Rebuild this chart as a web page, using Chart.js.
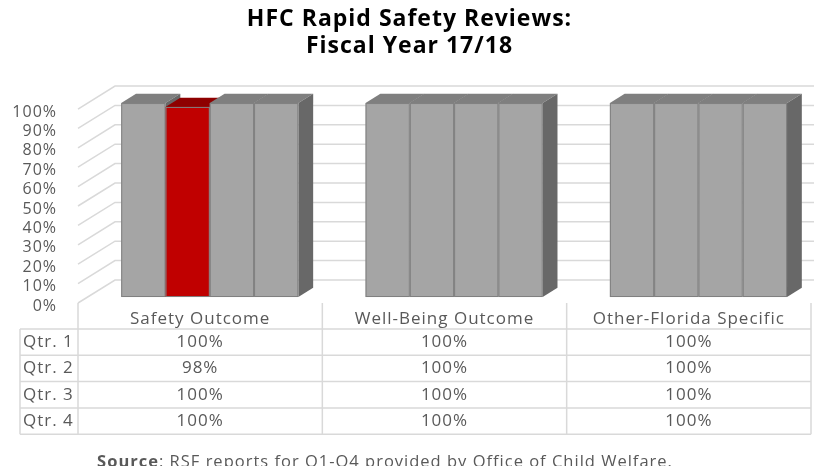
<!DOCTYPE html>
<html>
<head>
<meta charset="utf-8">
<script src="https://cdn.jsdelivr.net/npm/chart.js@4.4.1/dist/chart.umd.min.js"></script>
<style>
  html, body { margin: 0; padding: 0; background: #fff; }
  #wrap { width: 814px; height: 466px; }
</style>
</head>
<body>
<div id="wrap"><canvas id="rsrChart" width="814" height="466"></canvas></div>
<script>
// Chart data
const categories = ['Safety Outcome', 'Well-Being Outcome', 'Other-Florida Specific'];
const quarters = ['Qtr. 1', 'Qtr. 2', 'Qtr. 3', 'Qtr. 4'];
const qtr1 = [100, 100, 100];
const qtr2 = [98, 100, 100];
const qtr3 = [100, 100, 100];
const qtr4 = [100, 100, 100];
const yTicks = [0, 10, 20, 30, 40, 50, 60, 70, 80, 90, 100];

const GRAY = '#a5a5a5';
const RED = '#c00000';
const TEXT = '#595959';
const LINE = '#d9d9d9';
const FONT = "'Open Sans', sans-serif";

// shading for top / side faces of the 3D bars
const shade = {
    '#a5a5a5': { top: '#7f7f7f', side: '#686868' },
    '#c00000': { top: '#8e0000', side: '#700000' }
};

// 3D depth of the plot box, bars sit in the middle of it
const depth = { dx: 37, dy: -23 };
const barFront = 0.26, barBack = 0.66;

const series = [qtr1, qtr2, qtr3, qtr4];

const threeD = {
    id: 'threeD',
    beforeDraw(chart) {
        // the reference text is set wide, spread letters a little
        chart.ctx.letterSpacing = '1px';
    },
    beforeDatasetsDraw(chart) {
        const { ctx, chartArea: a, scales: { x, y } } = chart;
        ctx.save();

        // walls: left side diagonals + back wall grid
        ctx.strokeStyle = LINE;
        ctx.lineWidth = 1.5;
        yTicks.forEach(v => {
            const py = y.getPixelForValue(v);
            ctx.beginPath();
            ctx.moveTo(a.left, py);
            ctx.lineTo(a.left + depth.dx, py + depth.dy);
            ctx.lineTo(a.right + depth.dx, py + depth.dy);
            ctx.stroke();
        });

        const fx = depth.dx * barFront, fy = depth.dy * barFront;
        const bx = depth.dx * (barBack - barFront), by = depth.dy * (barBack - barFront);

        categories.forEach((c, i) => {
            chart.data.datasets.forEach((ds, di) => {
                const bar = chart.getDatasetMeta(di).data[i];
                const col = Array.isArray(ds.backgroundColor) ? ds.backgroundColor[i] : ds.backgroundColor;
                const l = bar.x - bar.width / 2 + fx, r = bar.x + bar.width / 2 + fx;
                const top = bar.y + fy, bot = bar.base + fy;

                ctx.fillStyle = shade[col].top;
                ctx.beginPath();
                ctx.moveTo(l, top);
                ctx.lineTo(l + bx, top + by);
                ctx.lineTo(r + bx, top + by);
                ctx.lineTo(r, top);
                ctx.closePath();
                ctx.fill();

                ctx.fillStyle = shade[col].side;
                ctx.beginPath();
                ctx.moveTo(r, top);
                ctx.lineTo(r + bx, top + by);
                ctx.lineTo(r + bx, bot + by);
                ctx.lineTo(r, bot);
                ctx.closePath();
                ctx.fill();

                ctx.fillStyle = col;
                ctx.fillRect(l, top, r - l, bot - top);
                ctx.strokeStyle = '#808080';
                ctx.lineWidth = 1;
                ctx.strokeRect(l + 0.5, top + 0.5, r - l - 1, bot - top - 1);
            });
        });
        ctx.restore();
        return false; // bars are drawn above, skip the flat ones
    },
    afterDraw(chart) {
        const { ctx, chartArea: a } = chart;
        const colW = (a.right - a.left) / categories.length;
        const headBottom = 329, rowH = 26.3;
        const tableBottom = headBottom + rowH * quarters.length;
        const rowLeft = 20;

        ctx.save();
        ctx.strokeStyle = LINE;
        ctx.lineWidth = 1.5;
        // vertical lines
        for (let i = 0; i <= categories.length; i++) {
            const px = a.left + colW * i;
            ctx.beginPath();
            ctx.moveTo(px, a.bottom);
            ctx.lineTo(px, tableBottom);
            ctx.stroke();
        }
        ctx.beginPath();
        ctx.moveTo(rowLeft, headBottom);
        ctx.lineTo(rowLeft, tableBottom);
        ctx.stroke();
        // horizontal lines
        for (let r = 0; r <= quarters.length; r++) {
            const py = headBottom + rowH * r;
            ctx.beginPath();
            ctx.moveTo(rowLeft, py);
            ctx.lineTo(a.right, py);
            ctx.stroke();
        }

        ctx.fillStyle = TEXT;
        ctx.font = '17px ' + FONT;
        ctx.textBaseline = 'middle';
        ctx.textAlign = 'center';
        categories.forEach((c, i) => {
            ctx.fillText(c, a.left + colW * (i + 0.5), 319);
        });
        quarters.forEach((q, r) => {
            const py = headBottom + rowH * (r + 0.5);
            ctx.textAlign = 'left';
            ctx.fillText(q, rowLeft + 3, py);
            ctx.textAlign = 'center';
            series[r].forEach((v, i) => {
                ctx.fillText(v + '%', a.left + colW * (i + 0.5), py);
            });
        });

        // source note
        const bold = 'Source', rest = ': RSF reports for Q1-Q4 provided by Office of Child Welfare.';
        ctx.font = 'bold 16.5px ' + FONT;
        const wb = ctx.measureText(bold).width;
        ctx.font = '16.5px ' + FONT;
        const wr = ctx.measureText(rest).width;
        let sx = 385 - (wb + wr) / 2;
        ctx.textAlign = 'left';
        ctx.font = 'bold 16.5px ' + FONT;
        ctx.fillText(bold, sx, 462);
        ctx.font = '16.5px ' + FONT;
        ctx.fillText(rest, sx + wb, 462);
        ctx.restore();
    }
};

const ctx = document.getElementById('rsrChart').getContext('2d');
new Chart(ctx, {
    type: 'bar',
    data: {
        labels: categories,
        datasets: quarters.map((q, i) => ({
            label: q,
            data: series[i],
            backgroundColor: series[i].map((v, j) => (i === 1 && j === 0) ? RED : GRAY),
            categoryPercentage: 0.725,
            barPercentage: 1
        }))
    },
    options: {
        responsive: false,
        animation: false,
        layout: { padding: { left: 8, right: 3, top: 0, bottom: 163 } },
        plugins: {
            legend: { display: false },
            tooltip: { enabled: false },
            title: {
                display: true,
                text: ['HFC Rapid Safety Reviews:', 'Fiscal Year 17/18'],
                color: '#000',
                font: { family: FONT, size: 23, weight: 'bold', lineHeight: 1.17 },
                padding: { top: 6, bottom: 49.2 }
            }
        },
        scales: {
            x: { display: false },
            y: {
                min: 0,
                max: 100,
                afterFit: s => { s.width = 70; },
                afterBuildTicks: s => { s.ticks = yTicks.map(v => ({ value: v })); },
                grid: { display: false, drawTicks: false },
                border: { display: false },
                ticks: {
                    autoSkip: false,
                    padding: 21,
                    labelOffset: 3,
                    color: TEXT,
                    font: { family: FONT, size: 16 },
                    callback: v => v + '%'
                }
            }
        }
    },
    plugins: [threeD]
});
</script>
</body>
</html>
